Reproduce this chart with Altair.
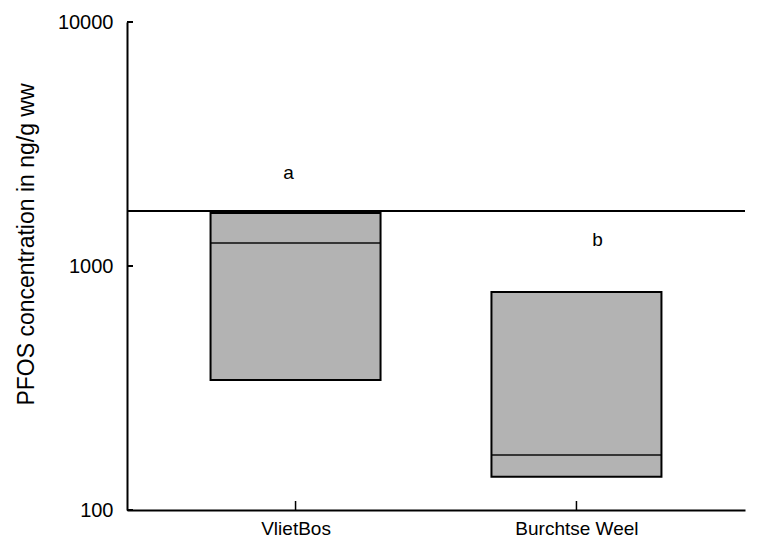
import altair as alt
import pandas as pd

sites = ["VlietBos", "Burchtse Weel"]
q_low = [341, 137]
median = [1243, 168]
q_high = [1650, 782]
letters = ["a", "b"]
letter_y = [2405, 1278]
ref_value = [1680]
y_ticks = [100, 1000, 10000]

W, H = 618, 488
FONT = "Liberation Sans"

df = pd.DataFrame({"site": sites, "lo": q_low, "med": median, "hi": q_high,
                   "letter": letters, "ly": letter_y})
ref_df = pd.DataFrame({"v": ref_value})
tick_df = pd.DataFrame({"v": y_ticks})

xscale = alt.Scale(type="point", domain=sites, padding=0.6)
yscale = alt.Scale(type="log", domain=[100, 10000], nice=False)
xaxis = alt.Axis(title=None, ticks=False, grid=False, labelAngle=0, labelPadding=9,
                 labelFontSize=19, labelFont=FONT, labelColor="black",
                 domainColor="black", domainWidth=2)
yaxis = alt.Axis(title="PFOS concentration in ng/g ww", values=y_ticks, format="d",
                 ticks=False, grid=False, labelPadding=14, labelFontSize=20,
                 labelFont=FONT, labelColor="black", domainColor="black", domainWidth=2,
                 titleFont=FONT, titleFontSize=23, titleFontWeight="normal",
                 titleColor="black", titleX=-101, titleY=222, titleBaseline="middle",
                 titleAngle=-90)

X = alt.X("site:N", scale=xscale, axis=xaxis, sort=sites)

boxes = alt.Chart(df).mark_bar(size=170, color="#b3b3b3", stroke="black",
                               strokeWidth=2).encode(
    x=X,
    y=alt.Y("lo:Q", scale=yscale, axis=yaxis),
    y2="hi:Q",
)

med = alt.Chart(df).mark_tick(size=170, thickness=2, color="black").encode(
    x=X,
    y=alt.Y("med:Q", scale=yscale, axis=yaxis),
)

ref = alt.Chart(ref_df).mark_rule(color="black", strokeWidth=2).encode(
    y=alt.Y("v:Q", scale=yscale, axis=yaxis),
)

label_layers = []
for letter, shift in zip(letters, [-7, 21]):
    label_layers.append(
        alt.Chart(df).transform_filter(alt.datum.letter == letter)
        .mark_text(fontSize=19, font=FONT, color="black", dx=shift).encode(
            x=X,
            y=alt.Y("ly:Q", scale=yscale, axis=yaxis),
            text="letter:N",
        )
    )

ytick_marks = alt.Chart(tick_df).mark_rule(color="black", strokeWidth=2).encode(
    y=alt.Y("v:Q", scale=yscale, axis=yaxis),
    x=alt.value(0), x2=alt.value(6),
)

xtick_marks = alt.Chart(df).mark_rule(color="black", strokeWidth=1.5).encode(
    x=X,
    y=alt.value(H), y2=alt.value(H - 9),
)

chart = alt.layer(boxes, med, ref, *label_layers, ytick_marks, xtick_marks).properties(
    width=W, height=H,
    background="white",
    autosize=alt.AutoSizeParams(type="none"),
    padding={"left": 119, "top": 14, "right": 14, "bottom": 30},
).configure_view(strokeWidth=0, stroke="transparent")

chart.save("out.html", embed_options={"renderer": "svg", "actions": False})
